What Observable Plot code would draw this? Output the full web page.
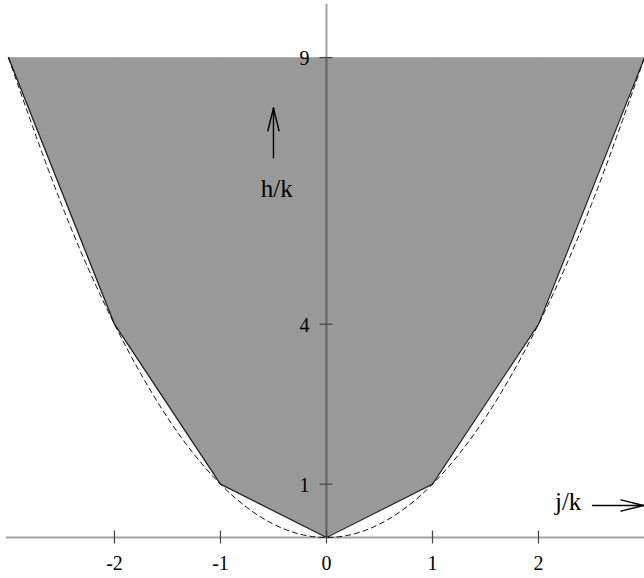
<!DOCTYPE html>
<html>
<head>
<meta charset="utf-8">
<script src="https://cdn.jsdelivr.net/npm/d3@7"></script>
<script src="https://cdn.jsdelivr.net/npm/@observablehq/plot@0.6"></script>
<style>
  html, body { margin: 0; padding: 0; background: white; }
  #chart svg { display: block; }
</style>
</head>
<body>
<div id="chart"></div>
<script>
// Polygon (lower boundary) vertices
const polyX = [-3, -2, -1, 0, 1, 2, 3];
const polyY = [9, 4, 1, 0, 1, 4, 9];
const polyTop = 9;

// Dashed parabola samples (h = j^2)
const paraX = [-3, -2.5, -2, -1.5, -1, -0.5, 0, 0.5, 1, 1.5, 2, 2.5, 3];
const paraY = [9, 6.25, 4, 2.25, 1, 0.25, 0, 0.25, 1, 2.25, 4, 6.25, 9];

// Axis ticks
const xTicks = [-2, -1, 0, 1, 2];
const xTickLabels = ["-2", "-1", "0", "1", "2"];
const yTicks = [1, 4, 9];
const yTickLabels = ["1", "4", "9"];

// Axis labels with arrows (annotation anchors, data units)
const xLabel = "j/k";
const yLabel = "h/k";
const xLabelPos = [{x: 2.28, y: 0.66}];
const yLabelPos = [{x: -0.47, y: 6.53}];
const xArrowFrom = {x: 2.51, y: 0.6};
const xArrowTo = {x: 2.99, y: 0.6};
const yArrowFrom = {x: -0.5, y: 7.12};
const yArrowTo = {x: -0.5, y: 8.05};

const xDomain = [-3.075, 3];
const yDomain = [-0.769, 10.07];
const W = 644, H = 578;
const pxX = W / (xDomain[1] - xDomain[0]);
const pxY = H / (yDomain[1] - yDomain[0]);
const tickHalf = 6.5;
const headL = 22.5, headW = 5.6;

const poly = polyX.map((x, i) => ({x, y: polyY[i], top: polyTop}));
const para = paraX.map((x, i) => ({x, y: paraY[i]}));

// arrow segments: shaft + two open-head wings
const arrowSegs = [
  {x1: xArrowFrom.x, y1: xArrowFrom.y, x2: xArrowTo.x, y2: xArrowTo.y},
  {x1: xArrowTo.x, y1: xArrowTo.y, x2: xArrowTo.x - headL / pxX, y2: xArrowTo.y + headW / pxY},
  {x1: xArrowTo.x, y1: xArrowTo.y, x2: xArrowTo.x - headL / pxX, y2: xArrowTo.y - headW / pxY},
  {x1: yArrowFrom.x, y1: yArrowFrom.y, x2: yArrowTo.x, y2: yArrowTo.y},
  {x1: yArrowTo.x, y1: yArrowTo.y, x2: yArrowTo.x - headW / pxX, y2: yArrowTo.y - headL / pxY},
  {x1: yArrowTo.x, y1: yArrowTo.y, x2: yArrowTo.x + headW / pxX, y2: yArrowTo.y - headL / pxY}
];

const chart = Plot.plot({
  width: W,
  height: H,
  margin: 0,
  x: {domain: xDomain, axis: null},
  y: {domain: yDomain, axis: null},
  style: {background: "white", fontFamily: "'Liberation Serif', 'DejaVu Serif', serif"},
  marks: [
    Plot.areaY(poly, {x: "x", y1: "y", y2: "top", fill: "#999999"}),
    Plot.line(poly, {x: "x", y: "top", stroke: "#b0b0b0", strokeWidth: 1}),
    Plot.line(poly, {x: "x", y: "y", stroke: "#222", strokeWidth: 1.3}),
    Plot.line(para, {x: "x", y: "y", curve: "natural", stroke: "#111", strokeWidth: 1, strokeDasharray: "5,4"}),
    // axis lines
    Plot.ruleY([0], {x1: -3.02, x2: 3, stroke: "black", strokeOpacity: 0.36, strokeWidth: 2}),
    Plot.ruleX([0], {y1: 0, y2: 10, stroke: "black", strokeOpacity: 0.36, strokeWidth: 2}),
    // ticks
    Plot.ruleX(xTicks, {x: d => d, y1: -tickHalf / pxY, y2: tickHalf / pxY, stroke: "#444", strokeWidth: 1.2}),
    Plot.ruleY(yTicks, {y: d => d, x1: -tickHalf / pxX, x2: tickHalf / pxX, stroke: "#444", strokeWidth: 1.2}),
    // tick labels
    Plot.text(xTicks, {x: d => d, y: 0, dy: 26, text: (d, i) => xTickLabels[i], fontSize: 20, fill: "black", textAnchor: "middle"}),
    Plot.text(yTicks, {x: 0, y: d => d, dx: -17, dy: 1, text: (d, i) => yTickLabels[i], fontSize: 20, fill: "black", textAnchor: "end"}),
    // axis labels
    Plot.text(xLabelPos, {x: "x", y: "y", text: () => xLabel, fontSize: 25, fill: "black", textAnchor: "middle"}),
    Plot.text(yLabelPos, {x: "x", y: "y", text: () => yLabel, fontSize: 25, fill: "black", textAnchor: "middle"}),
    Plot.link(arrowSegs, {x1: "x1", y1: "y1", x2: "x2", y2: "y2", stroke: "black", strokeWidth: 1.4, strokeLinecap: "round"})
  ]
});
document.getElementById("chart").appendChild(chart);
</script>
</body>
</html>
